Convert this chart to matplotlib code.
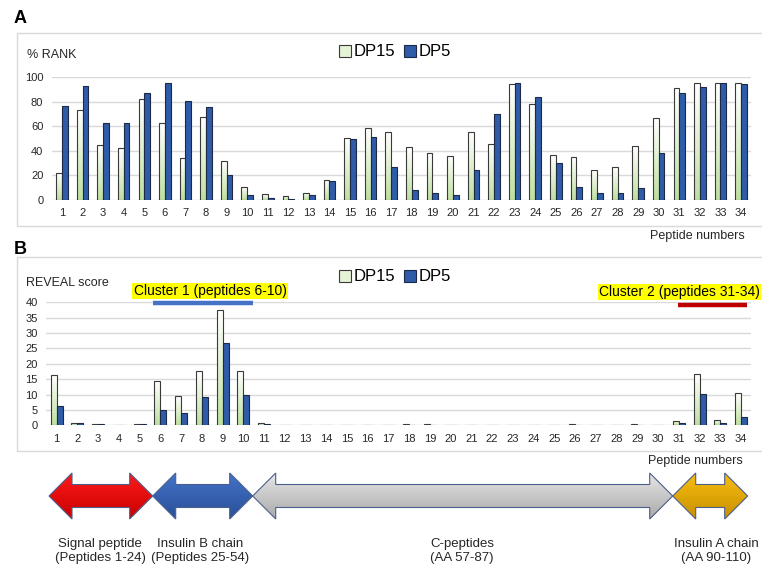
import numpy as np
import matplotlib
matplotlib.use("Agg")
import matplotlib.pyplot as plt
from matplotlib.patches import Patch, Polygon, Rectangle
from matplotlib.colors import LinearSegmentedColormap

plt.rcParams["font.family"] = ["Liberation Sans", "DejaVu Sans"]

# ---- data ----
peptides = list(range(1, 35))

rank_dp15 = [22, 73, 45, 42, 82, 63, 34, 68, 32, 11, 4.6, 3.5, 6, 16.3, 50.5, 59,
             55.7, 43, 38, 36, 55.7, 46, 94.3, 78, 37, 35.3, 24.7, 27, 43.8, 66.6,
             91, 95, 95, 95]
rank_dp5 = [76.5, 92.7, 62.5, 63, 87.5, 95, 81, 75.5, 20.7, 4.3, 1.6, 1.1, 3.8, 15.8,
            50, 51.6, 27, 7.9, 6, 4.3, 24.2, 70.4, 95, 84.2, 30, 10.6, 5.4, 6, 9.5,
            38, 87, 91.8, 95, 94.3]

reveal_dp15 = [16.4, 0.6, 0.4, 0, 0.4, 14.3, 9.4, 17.5, 37.6, 17.5, 0.7, 0, 0, 0, 0,
               0, 0, 0.3, 0.3, 0, 0, 0, 0, 0, 0, 0.3, 0, 0, 0.3, 0, 1.4, 16.6, 1.7,
               10.4]
reveal_dp5 = [6.4, 0.6, 0.4, 0, 0.4, 4.9, 3.9, 9.1, 26.9, 9.8, 0.5, 0, 0, 0, 0, 0, 0,
              0, 0, 0, 0, 0, 0, 0, 0, 0, 0, 0, 0, 0, 0.7, 10.2, 0.7, 2.8]

series_names = ["DP15", "DP5"]
cluster_labels = ["Cluster 1 (peptides 6-10)", "Cluster 2 (peptides 31-34)"]
region_labels = ["Signal peptide\n(Peptides 1-24)", "Insulin B chain\n(Peptides 25-54)",
                 "C-peptides\n(AA 57-87)", "Insulin A chain\n(AA 90-110)"]

W, H = 762, 569
GRID = "#d9d9d9"
EDGE15 = "#3a3a3a"
EDGE5 = "#1c2a48"
TXT = "#262626"


def px_axes(fig, left, right, top, bottom):
    return fig.add_axes([left / W, 1 - bottom / H, (right - left) / W, (bottom - top) / H])


def gradient_fill(ax, patch, c_top, c_bot, extent):
    cmap = LinearSegmentedColormap.from_list("g", [c_bot, c_top])
    grad = np.linspace(0, 1, 64).reshape(-1, 1)
    im = ax.imshow(grad, cmap=cmap, extent=extent, origin="lower", aspect="auto",
                   zorder=patch.get_zorder() - 0.1, interpolation="bicubic")
    im.set_clip_path(patch)


def bar_panel(ax, v15, v5, ymax, ystep, bw):
    x = np.array(peptides, dtype=float)
    b15 = ax.bar(x - bw / 2, v15, bw, facecolor="none", edgecolor=EDGE15, lw=0.8, zorder=3)
    ax.bar(x + bw / 2, v5, bw, facecolor="#2f5ba8", edgecolor=EDGE5, lw=0.8, zorder=3)
    for p in b15:
        if p.get_height() > 0:
            gradient_fill(ax, p, "#ffffff", "#bfe0a0",
                          [p.get_x(), p.get_x() + p.get_width(), 0, p.get_height()])
    ax.set_xlim(0.5, 34.5)
    ax.set_ylim(0, ymax)
    ax.set_xticks(peptides)
    ax.set_yticks(np.arange(0, ymax + 1, ystep))
    ax.grid(axis="y", color=GRID, lw=1.0, zorder=0)
    ax.set_axisbelow(True)
    ax.tick_params(length=0, labelsize=8, colors=TXT)
    ax.tick_params(axis="x", pad=6)
    ax.tick_params(axis="y", pad=6)
    for s in ax.spines.values():
        s.set_visible(False)
    ax.patch.set_alpha(0)


fig = plt.figure(figsize=(W / 100, H / 100), dpi=100)

# ---- Panel A ----
axA = px_axes(fig, 51.7, 751.3, 77.3, 200)
bar_panel(axA, rank_dp15, rank_dp5, 100, 20, 0.28)

# ---- Panel B ----
axB = px_axes(fig, 46.3, 751.4, 302.3, 425.3)
bar_panel(axB, reveal_dp15, reveal_dp5, 40, 5, 0.29)

handles = [Patch(facecolor="#e4f2d6", edgecolor=EDGE15, lw=0.8),
           Patch(facecolor="#2f5ba8", edgecolor=EDGE5, lw=0.8)]
for yc in (52, 277):
    fig.legend(handles, series_names, loc="center", bbox_to_anchor=(395 / W, 1 - yc / H),
               ncol=2, frameon=False, fontsize=12, handlelength=0.75, handleheight=0.75,
               handletextpad=0.15, columnspacing=0.5, borderpad=0)

# ---- overlay in pixel coords ----
ov = fig.add_axes([0, 0, 1, 1])
ov.set_xlim(0, W)
ov.set_ylim(H, 0)
ov.axis("off")

for top, bot in ((33, 226), (257, 451)):
    ov.add_patch(Rectangle((17, top), W + 10 - 17, bot - top, fill=False,
                           edgecolor=GRID, lw=1.0, clip_on=False))

ov.text(14, 18.5, "A", fontsize=13, fontweight="bold", va="center", ha="left")
ov.text(14, 249, "B", fontsize=13, fontweight="bold", va="center", ha="left")
ov.text(27, 55, "% RANK", fontsize=9, va="center", ha="left", color=TXT)
ov.text(26, 283, "REVEAL score", fontsize=9, va="center", ha="left", color=TXT)
ov.text(745, 236, "Peptide numbers", fontsize=9, va="center", ha="right", color=TXT)
ov.text(743, 461, "Peptide numbers", fontsize=9, va="center", ha="right", color=TXT)

ov.text(210, 291, cluster_labels[0], fontsize=10, va="center", ha="center",
        bbox=dict(facecolor="#ffff00", edgecolor="none", pad=1.0))
ov.text(760, 292, cluster_labels[1], fontsize=10, va="center", ha="right",
        bbox=dict(facecolor="#ffff00", edgecolor="none", pad=1.0))
ov.plot([153, 253], [303, 303], color="#4472c4", lw=3.2, solid_capstyle="butt")
ov.plot([678, 747], [305, 305], color="#c00000", lw=3.2, solid_capstyle="butt")

# ---- double-headed region arrows ----
arrow_x = [49, 152.7, 252.7, 672.7, 747.7]
arrow_cols = [("#ff1a1a", "#c80000"), ("#4373c8", "#2a4f98"),
              ("#e6e6e6", "#a9a9a9"), ("#f7bd10", "#c89000")]
yc, hh, sh, hl = 496, 23, 11.5, 23
for i, (ct, cb) in enumerate(arrow_cols):
    x0, x1 = arrow_x[i], arrow_x[i + 1]
    pts = [(x0, yc), (x0 + hl, yc - hh), (x0 + hl, yc - sh), (x1 - hl, yc - sh),
           (x1 - hl, yc - hh), (x1, yc), (x1 - hl, yc + hh), (x1 - hl, yc + sh),
           (x0 + hl, yc + sh), (x0 + hl, yc + hh)]
    poly = Polygon(pts, closed=True, facecolor="none", edgecolor="#4a5f8c", lw=0.8, zorder=3)
    ov.add_patch(poly)
    cmap = LinearSegmentedColormap.from_list("a", [ct, cb])
    im = ov.imshow(np.linspace(0, 1, 64).reshape(-1, 1), cmap=cmap, aspect="auto",
                   extent=[x0, x1, yc + hh, yc - hh], origin="upper", zorder=2,
                   interpolation="bicubic")
    im.set_clip_path(poly)

ov.set_xlim(0, W)
ov.set_ylim(H, 0)

label_x = [100, 200, 462, 716]
for lx, lab in zip(label_x, region_labels):
    ov.text(lx, 551, lab, fontsize=9.5, ha="center", va="center", color=TXT,
            linespacing=1.25)

fig.savefig("out.png", dpi=100)
